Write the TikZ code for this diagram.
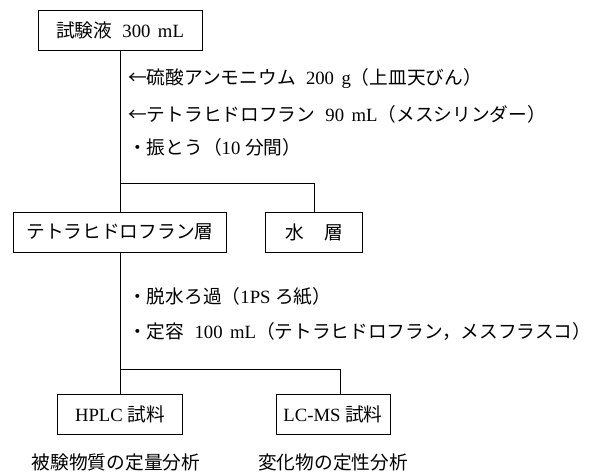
\documentclass[tikz,border=0pt]{standalone}
\usepackage{fontspec}
\setmainfont{Liberation Serif}
\newfontfamily\jp{Noto Sans CJK JP}
\usetikzlibrary{positioning}

\tikzset{
  stagebox/.style={draw, semithick, rectangle, minimum height=40pt, inner sep=0pt},
  steptext/.style={anchor=west, inner sep=0pt},
  usetext/.style={inner sep=0pt}
}

\begin{document}
\begin{tikzpicture}[x=1pt, y=-1pt, font=\fontsize{18.7}{22}\selectfont]
\useasboundingbox (0,0) rectangle (595,472);

% boxes
\node at (120,30) [stagebox, minimum width=164pt] (sample) {{\jp 試験液}\hspace{0.55em}300\hspace{0.4em}mL};
\node at (120,232) [stagebox, minimum width=213pt] (thf) {\jp テトラヒドロフラン層};
\node at (314,232) [stagebox, minimum width=97pt] (aq) {{\jp 水}\hspace{1.1em}{\jp 層}};
\node at (120,414) [stagebox, minimum width=125pt] (hplc) {HPLC\hspace{0.25em}{\jp 試料}};
\node at (333,414) [stagebox, minimum width=114pt] (lcms) {LC-MS\hspace{0.25em}{\jp 試料}};

% steps
\node at (128,79) [steptext] (addsalt) {{\jp ←硫酸アンモニウム}\hspace{0.55em}200\hspace{0.4em}g{\jp （上皿天びん）}};
\node at (128,114) [steptext] (addthf) {{\jp ←テトラヒドロフラン}\hspace{0.55em}90\hspace{0.4em}mL{\jp （メスシリンダー）}};
\node at (128,147) [steptext] (shake) {{\jp ・振とう（}10\hspace{0.25em}{\jp 分間）}};
\node at (128,296) [steptext] (dry) {{\jp ・脱水ろ過（}1PS\hspace{0.25em}{\jp ろ紙）}};
\node at (128,331) [steptext] (fill) {{\jp ・定容}\hspace{0.55em}100\hspace{0.4em}mL{\jp （テトラヒドロフラン，メスフラスコ）}};

% uses
\node[usetext, below=19pt of hplc, xshift=-4pt] (quant) {\jp 被験物質の定量分析};
\node[usetext, below=19pt of lcms] (qual) {\jp 変化物の定性分析};

% connectors
\coordinate (split1) at (120,183);
\coordinate (split2) at (120,369);
\draw (sample) -- (thf);
\draw (split1) -| (aq);
\draw (thf) -- (hplc);
\draw (split2) -| ([xshift=7pt]lcms.north);
\end{tikzpicture}
\end{document}
